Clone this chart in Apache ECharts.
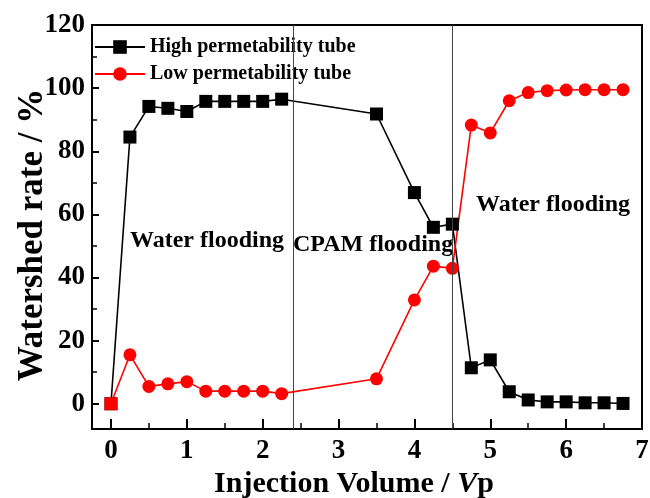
<!DOCTYPE html>
<html>
<head>
<meta charset="utf-8">
<script src="https://cdn.jsdelivr.net/npm/echarts@6/dist/echarts.min.js"></script>
<style>html,body{margin:0;padding:0;background:#fff}#c{width:650px;height:498px}</style>
</head>
<body>
<div id="c"></div>
<script>
const xHigh = [0, 0.25, 0.5, 0.75, 1.0, 1.25, 1.5, 1.75, 2.0, 2.25, 3.5, 4.0, 4.25, 4.5, 4.75, 5.0, 5.25, 5.5, 5.75, 6.0, 6.25, 6.5, 6.75];
const highPerm = [0, 84.5, 94.2, 93.6, 92.6, 95.8, 95.8, 95.8, 95.8, 96.5, 91.8, 66.9, 55.9, 56.9, 11.4, 13.9, 3.8, 1.2, 0.6, 0.6, 0.3, 0.3, 0.1];
const xLow = [0, 0.25, 0.5, 0.75, 1.0, 1.25, 1.5, 1.75, 2.0, 2.25, 3.5, 4.0, 4.25, 4.5, 4.75, 5.0, 5.25, 5.5, 5.75, 6.0, 6.25, 6.5, 6.75];
const lowPerm = [0, 15.5, 5.5, 6.3, 7.0, 4.0, 4.0, 4.0, 4.0, 3.2, 7.9, 32.9, 43.6, 42.9, 88.3, 85.8, 96.0, 98.6, 99.2, 99.4, 99.5, 99.5, 99.5];
const seriesNames = ['High permetability tube', 'Low permetability tube'];
const stageLines = [2.4, 4.5];
const stageLabels = ['Water flooding', 'CPAM flooding', 'Water flooding'];
const xMajorTicks = [0, 1, 2, 3, 4, 5, 6, 7];
const xMinorTicks = [0.5, 1.5, 2.5, 3.5, 4.5, 5.5, 6.5];
const yMajorTicks = [0, 20, 40, 60, 80, 100, 120];
const yMinorTicks = [10, 30, 50, 70, 90, 110];

const FONT = '"Liberation Serif","Times New Roman",serif';
const chart = echarts.init(document.getElementById('c'), null, {renderer: 'canvas'});

const highData = xHigh.map((x, i) => [x, highPerm[i]]);
const lowData = xLow.map((x, i) => i === 0 ? {value: [x, lowPerm[i]], symbol: 'rect'} : [x, lowPerm[i]]);

const baseX = {type: 'value', min: -0.25, max: 7, splitLine: {show: false}};
const baseY = {type: 'value', min: -8, max: 120, splitLine: {show: false}};

chart.setOption({
  animation: false,
  backgroundColor: '#fff',
  grid: {left: 92, top: 25, right: 8, bottom: 69, outerBoundsMode: 'none', containLabel: false,
    show: true, borderColor: '#000', borderWidth: 2, backgroundColor: 'transparent'},
  legend: {
    left: 89, top: 32, orient: 'vertical', itemGap: 7, itemWidth: 50, itemHeight: 17,
    data: seriesNames,
    textStyle: {fontFamily: FONT, fontWeight: 'bold', fontSize: 20, color: '#000'}
  },
  xAxis: [
    Object.assign({}, baseX, {
      axisLine: {show: true, onZero: false, lineStyle: {color: '#000', width: 2}},
      axisTick: {show: true, inside: true, length: 10, lineStyle: {color: '#000', width: 2}, customValues: xMajorTicks},
      axisLabel: {show: true, margin: 9, customValues: xMajorTicks, fontFamily: FONT, fontWeight: 'bold', fontSize: 27, color: '#000'},
      name: 'Injection Volume / {i|V}p', nameLocation: 'middle', nameGap: 40, nameMoveOverlap: false,
      nameTextStyle: {fontFamily: FONT, fontWeight: 'bold', fontSize: 30, color: '#000', padding: [0, 26, 0, 0],
        rich: {i: {fontFamily: FONT, fontWeight: 'bold', fontStyle: 'italic', fontSize: 30, color: '#000'}}}
    }),
    Object.assign({}, baseX, {
      position: 'bottom', axisLine: {show: false, onZero: false},
      axisTick: {show: true, inside: true, length: 6, lineStyle: {color: '#000', width: 1.5}, customValues: xMinorTicks},
      axisLabel: {show: false}
    })
  ],
  yAxis: [
    Object.assign({}, baseY, {
      axisLine: {show: true, onZero: false, lineStyle: {color: '#000', width: 2}},
      axisTick: {show: true, inside: true, length: 7, lineStyle: {color: '#000', width: 2}, customValues: yMajorTicks},
      axisLabel: {show: true, margin: 7, customValues: yMajorTicks, fontFamily: FONT, fontWeight: 'bold', fontSize: 27, color: '#000'},
      name: 'Watershed rate / %', nameLocation: 'middle', nameGap: 42, nameMoveOverlap: false,
      nameTextStyle: {fontFamily: FONT, fontWeight: 'bold', fontSize: 35, color: '#000', padding: [0, 16, 0, 0]}
    }),
    Object.assign({}, baseY, {
      position: 'left', axisLine: {show: false, onZero: false},
      axisTick: {show: true, inside: true, length: 5, lineStyle: {color: '#000', width: 1.5}, customValues: yMinorTicks},
      axisLabel: {show: false}
    })
  ],
  series: [
    {
      name: seriesNames[0], type: 'line', data: highData, xAxisIndex: 0, yAxisIndex: 0,
      symbol: 'rect', symbolSize: 13, color: '#000',
      lineStyle: {color: '#000', width: 1.6}, itemStyle: {color: '#000'},
      markLine: {
        silent: true, symbol: 'none', label: {show: false},
        lineStyle: {color: '#444', width: 1, type: 'solid'},
        data: stageLines.map(v => ({xAxis: v}))
      }
    },
    {
      name: seriesNames[1], type: 'line', data: lowData, xAxisIndex: 0, yAxisIndex: 0,
      symbol: 'circle', symbolSize: 13, color: '#ff0000',
      lineStyle: {color: '#ff0000', width: 1.6}, itemStyle: {color: '#ff0000'}
    }
  ],
  graphic: [
    {type: 'text', x: 130, y: 241, style: {text: stageLabels[0], font: 'bold 24px ' + FONT, fill: '#000', verticalAlign: 'middle'}},
    {type: 'text', x: 293, y: 245, style: {text: stageLabels[1], font: 'bold 24px ' + FONT, fill: '#000', verticalAlign: 'middle'}},
    {type: 'text', x: 476, y: 205, style: {text: stageLabels[2], font: 'bold 24px ' + FONT, fill: '#000', verticalAlign: 'middle'}}
  ]
});
</script>
</body>
</html>
